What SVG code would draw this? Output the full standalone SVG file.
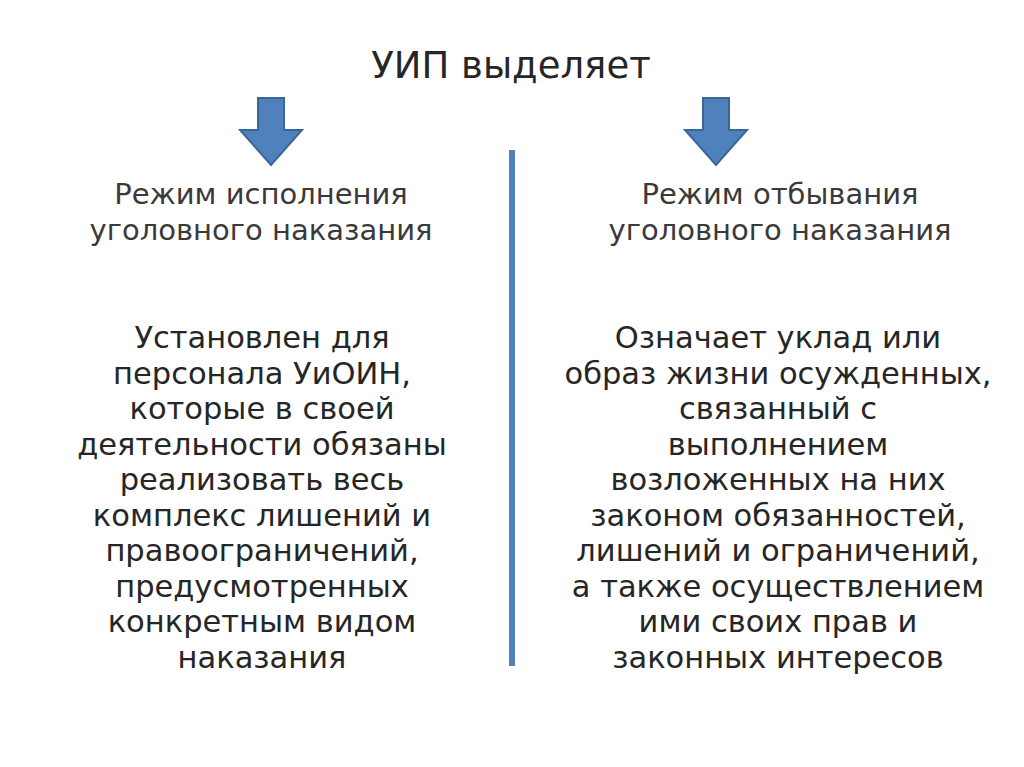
<svg xmlns="http://www.w3.org/2000/svg" width="1024" height="767" viewBox="0 0 1024 767">
<style>
text{font-family:"DejaVu Sans",sans-serif;fill:#262626;text-anchor:middle}
.t{font-size:37px}
.h{font-size:29px;fill:#3a3a3a}
.b{font-size:30.5px}
.arr{fill:#4f81bd;stroke:#3b6698;stroke-width:2}
</style>
<rect width="1024" height="767" fill="#fff"/>
<g id="title"><text class="t" x="511" y="78">УИП выделяет</text></g>
<g id="connectors">
<path class="arr" d="M258 98h26v32h18l-31 35l-31-35h18z"/>
<path class="arr" d="M703 98h26v32h18l-31 35l-31-35h18z"/>
<line x1="512" y1="150" x2="512" y2="666" stroke="#4f81bd" stroke-width="6"/>
</g>
<g id="left-head"><text class="h" x="261" y="204">Режим исполнения</text><text class="h" x="261" y="240">уголовного наказания</text></g>
<g id="right-head"><text class="h" x="780" y="204">Режим отбывания</text><text class="h" x="780" y="240">уголовного наказания</text></g>
<g id="left-body">
<text class="b" x="262" y="348">Установлен для</text>
<text class="b" x="262" y="384">персонала УиОИН,</text>
<text class="b" x="262" y="419">которые в своей</text>
<text class="b" x="262" y="455">деятельности обязаны</text>
<text class="b" x="262" y="490">реализовать весь</text>
<text class="b" x="262" y="526">комплекс лишений и</text>
<text class="b" x="262" y="561">правоограничений,</text>
<text class="b" x="262" y="597">предусмотренных</text>
<text class="b" x="262" y="632">конкретным видом</text>
<text class="b" x="262" y="668">наказания</text>
</g>
<g id="right-body">
<text class="b" x="778" y="348">Означает уклад или</text>
<text class="b" x="778" y="384">образ жизни осужденных,</text>
<text class="b" x="778" y="419">связанный с</text>
<text class="b" x="778" y="455">выполнением</text>
<text class="b" x="778" y="490">возложенных на них</text>
<text class="b" x="778" y="526">законом обязанностей,</text>
<text class="b" x="778" y="561">лишений и ограничений,</text>
<text class="b" x="778" y="597">а также осуществлением</text>
<text class="b" x="778" y="632">ими своих прав и</text>
<text class="b" x="778" y="668">законных интересов</text>
</g>
</svg>
